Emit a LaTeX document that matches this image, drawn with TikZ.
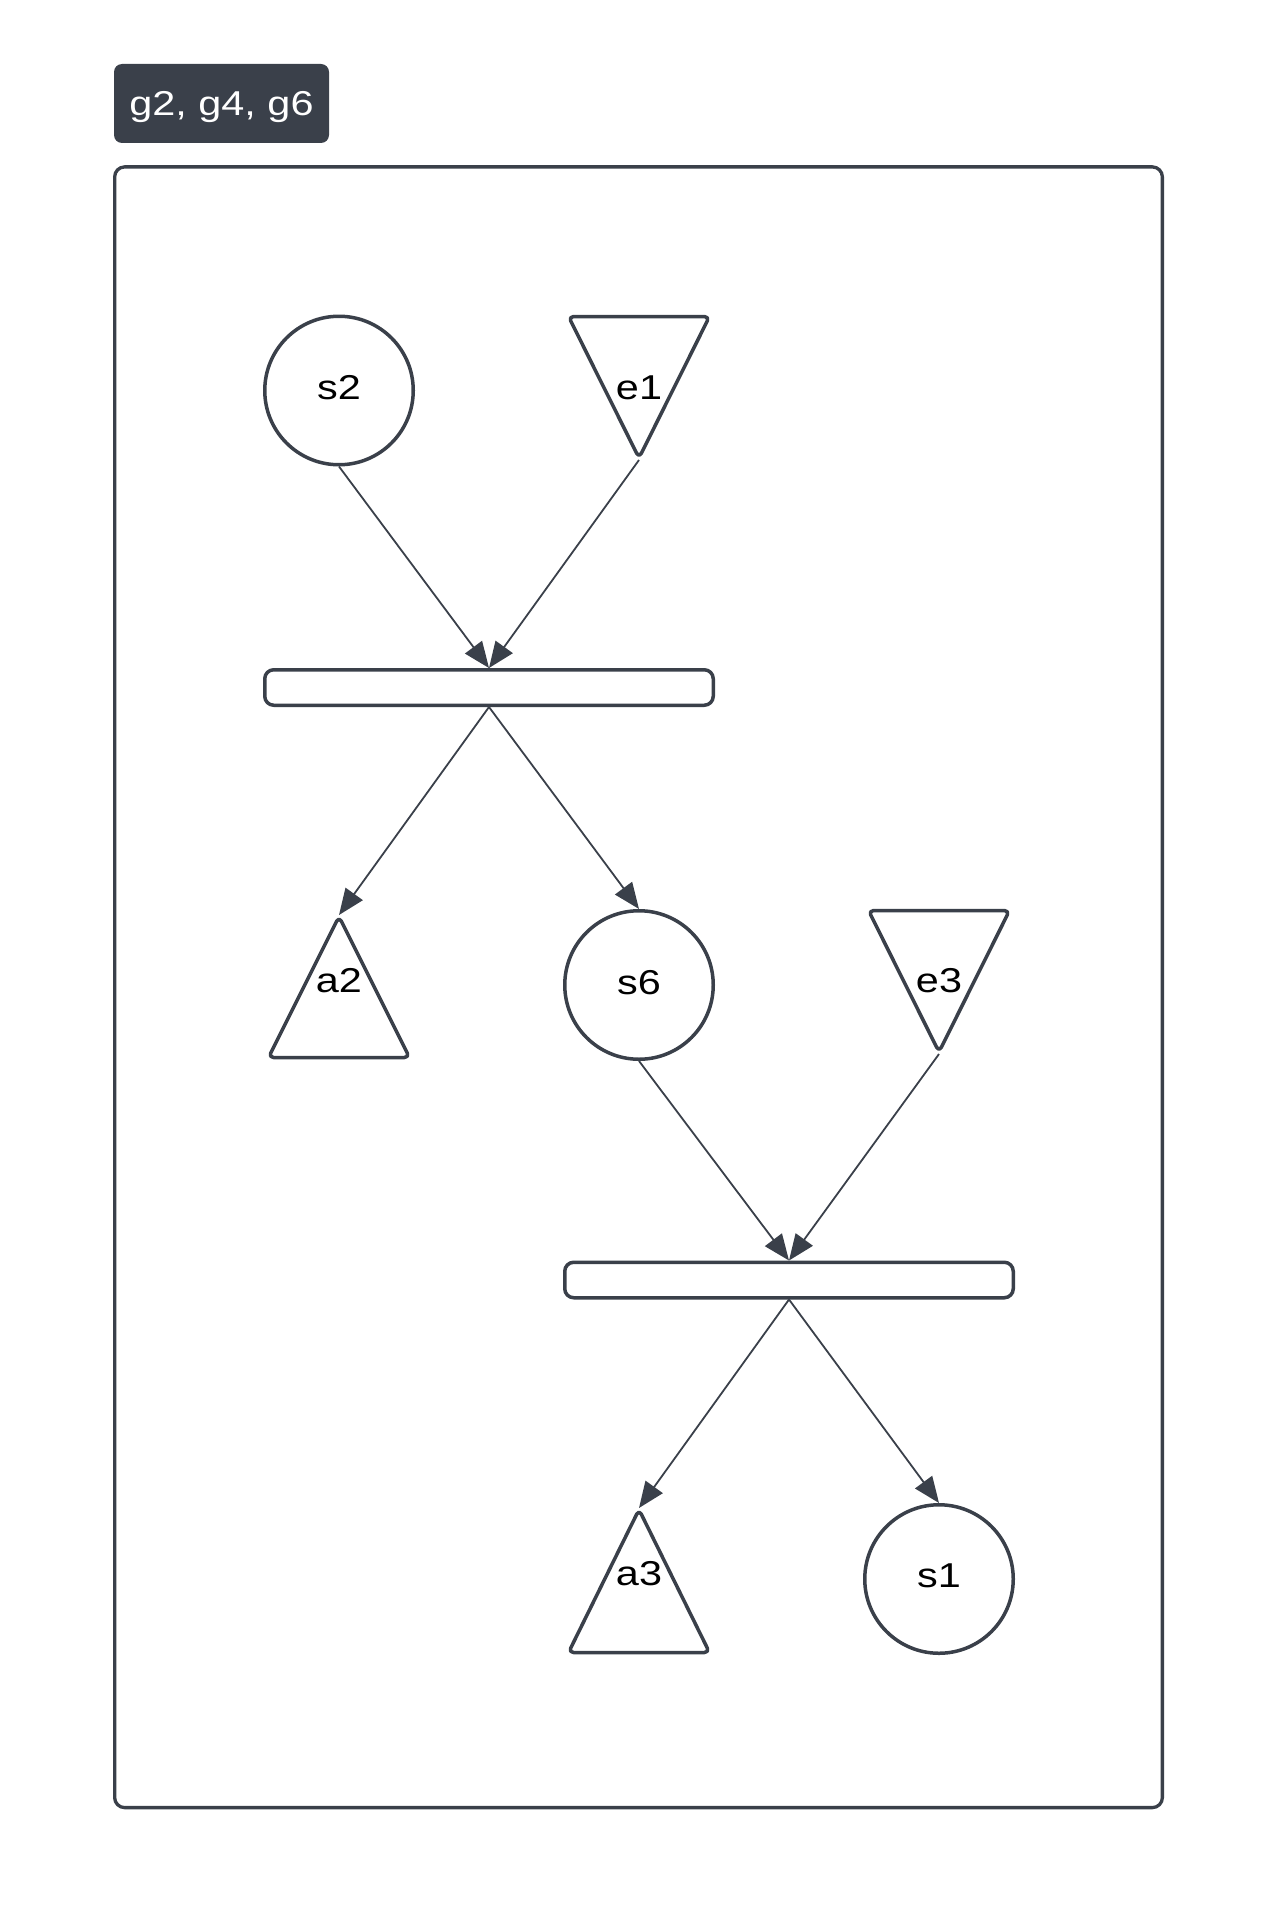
\documentclass[tikz,border=0pt]{standalone}
\usepackage{fontspec}
\setmainfont{Liberation Sans}[FakeStretch=1.2]
\usetikzlibrary{arrows.meta}
\definecolor{ink}{HTML}{3A404A}
\newcommand{\diagfs}{\fontsize{34.5pt}{40pt}\selectfont}
\begin{document}
\begin{tikzpicture}[x=1pt,y=-1pt,
  statenode/.style={circle, draw=ink, line width=3.5pt, minimum size=148.5pt, inner sep=0pt, font=\diagfs, text=black, text depth=6pt},
  barnode/.style={draw=ink, line width=3.5pt, rounded corners=9pt, minimum width=448.5pt, minimum height=35.5pt, inner sep=0pt, fill=white},
  conn/.style={draw=ink, line width=1.8pt, -{Triangle[length=26pt,width=21pt]}},
  tri/.style={draw=ink, line width=3.5pt, rounded corners=5pt, line join=round},
  txt/.style={font=\diagfs, text=black, inner sep=0pt},
  tagbox/.style={fill=ink, text=white, rounded corners=8pt, minimum width=215pt, minimum height=79pt, inner sep=0pt, font=\diagfs, text depth=0pt},
  framebox/.style={draw=ink, line width=3.3pt, rounded corners=10pt, minimum width=1047.7pt, minimum height=1640.7pt, inner sep=0pt}
]
\useasboundingbox (0,0) rectangle (1281,1929);

% group tag and frame
\node[tagbox] (tag) at (221.5,103.5) {g2, g4, g6};
\node[framebox] (frame) at (638.5,987.25) {};

% triangles
\draw[tri] (568.5,316.5) -- (709.5,316.5) -- (639,458) -- cycle;
\draw[tri] (868.5,910.5) -- (1009.5,910.5) -- (939,1052) -- cycle;
\draw[tri] (339,916.5) -- (409.5,1057.5) -- (268.5,1057.5) -- cycle;
\draw[tri] (639,1509.5) -- (709.5,1652.5) -- (568.5,1652.5) -- cycle;
\coordinate (e1tip) at (639,460);
\coordinate (e3tip) at (939,1054);
\coordinate (a2tip) at (339,915);
\coordinate (a3tip) at (639,1508);
\node[txt] (e1) at (639,387.5) {e1};
\node[txt] (e3) at (939,981) {e3};
\node[txt] (a2) at (339,981) {a2};
\node[txt] (a3) at (639,1574) {a3};

% circles
\node[statenode] (s2) at (339,390.5) {s2};
\node[statenode] (s6) at (639,985) {s6};
\node[statenode] (s1) at (939,1579) {s1};

% bars
\node[barnode] (bar1) at (489,687.5) {};
\node[barnode] (bar2) at (789,1280) {};

% connectors
\draw[conn] (s2.south) -- (bar1.north);
\draw[conn] (e1tip) -- (bar1.north);
\draw[conn] (bar1.south) -- (a2tip);
\draw[conn] (bar1.south) -- (s6.north);
\draw[conn] (s6.south) -- (bar2.north);
\draw[conn] (e3tip) -- (bar2.north);
\draw[conn] (bar2.south) -- (a3tip);
\draw[conn] (bar2.south) -- (s1.north);
\end{tikzpicture}
\end{document}
